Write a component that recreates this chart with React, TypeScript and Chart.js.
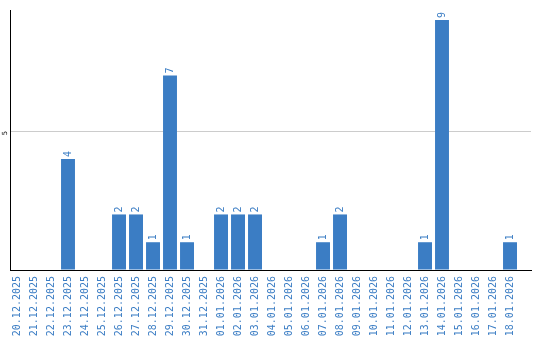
import React, { useEffect, useRef } from "react";
import { Chart, registerables } from "chart.js";

Chart.register(...registerables);

const dates = [
  "20.12.2025", "21.12.2025", "22.12.2025", "23.12.2025", "24.12.2025",
  "25.12.2025", "26.12.2025", "27.12.2025", "28.12.2025", "29.12.2025",
  "30.12.2025", "31.12.2025", "01.01.2026", "02.01.2026", "03.01.2026",
  "04.01.2026", "05.01.2026", "06.01.2026", "07.01.2026", "08.01.2026",
  "09.01.2026", "10.01.2026", "11.01.2026", "12.01.2026", "13.01.2026",
  "14.01.2026", "15.01.2026", "16.01.2026", "17.01.2026", "18.01.2026",
];
const counts = [0, 0, 0, 4, 0, 0, 2, 2, 1, 7, 1, 0, 2, 2, 2, 0, 0, 0, 1, 2, 0, 0, 0, 0, 1, 9, 0, 0, 0, 1];
const yTicks = [5];

const BLUE = "#3b7dc4";
const MONO = "'DejaVu Sans Mono', monospace";

const valueLabels = {
  id: "valueLabels",
  afterDatasetsDraw(chart: any) {
    const ctx = chart.ctx;
    const meta = chart.getDatasetMeta(0);
    ctx.save();
    ctx.fillStyle = BLUE;
    ctx.font = `10px ${MONO}`;
    ctx.textAlign = "left";
    ctx.textBaseline = "middle";
    meta.data.forEach((el: any, i: number) => {
      const v = counts[i];
      if (!v) return;
      ctx.save();
      ctx.translate(el.x, el.y - 2);
      ctx.rotate(-Math.PI / 2);
      ctx.fillText(String(v), 0, 0);
      ctx.restore();
    });
    ctx.restore();
  },
};

export default function App() {
  const ref = useRef<HTMLCanvasElement | null>(null);
  useEffect(() => {
    if (!ref.current) return;
    const chart = new Chart(ref.current, {
      type: "bar",
      data: {
        datasets: [
          {
            data: counts.map((v, i) => ({ x: i, y: v })),
            backgroundColor: BLUE,
            borderWidth: 0,
            barPercentage: 0.82,
            categoryPercentage: 1,
          },
        ],
      },
      options: {
        animation: false,
        responsive: false,
        layout: { padding: { top: 10, right: 9, left: 0, bottom: 0 } },
        plugins: { legend: { display: false }, tooltip: { enabled: false } },
        scales: {
          x: {
            type: "linear",
            offset: false,
            min: -0.412,
            max: 30.235,
            afterBuildTicks: (s: any) => {
              s.ticks = dates.map((_, i) => ({ value: i }));
            },
            afterFit: (s: any) => {
              s.height = 70;
              s.paddingLeft = 0;
              s.paddingRight = 0;
            },
            grid: { display: false, drawTicks: false, offset: false },
            border: { display: true, color: "#000", width: 1 },
            ticks: {
              autoSkip: false,
              minRotation: 90,
              maxRotation: 90,
              padding: 6,
              color: BLUE,
              font: { family: MONO, size: 10 },
              callback: (v: any) => dates[v] ?? "",
            },
          },
          y: {
            min: 0,
            max: 9.36,
            afterBuildTicks: (s: any) => {
              s.ticks = [{ value: 0 }, ...yTicks.map((v) => ({ value: v }))];
            },
            afterFit: (s: any) => {
              s.width = 10;
            },
            grid: { color: "#cccccc", drawTicks: false },
            border: { display: true, color: "#000", width: 1 },
            ticks: {
              minRotation: 90,
              maxRotation: 90,
              padding: 5,
              color: "#000",
              font: { family: MONO, size: 7 },
              callback: (v: any) => (v === 0 ? "" : String(v)),
            },
          },
        },
      },
      plugins: [valueLabels],
    });
    return () => chart.destroy();
  }, []);
  return (
    <div style={{ position: "absolute", left: 0, top: 0, width: 540, height: 340, background: "#fff" }}>
      <canvas ref={ref} width={540} height={340} />
    </div>
  );
}
